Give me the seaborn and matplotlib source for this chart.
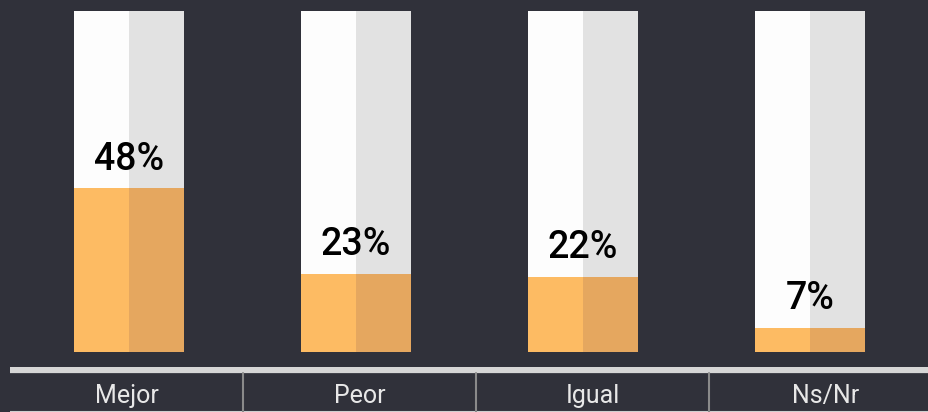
import numpy as np
import pandas as pd
import seaborn as sns
import matplotlib.pyplot as plt

# data
categories = ['Mejor', 'Peor', 'Igual', 'Ns/Nr']
values = [48, 23, 22, 7]
full = [100, 100, 100, 100]
halves = ['left', 'right']

bg_color = '#30313a'
back_palette = {'left': '#fdfdfd', 'right': '#e2e2e2'}
fill_palette = {'left': '#fdbb63', 'right': '#e5a75f'}

W, H = 929, 412

sns.set_theme(style='white')
plt.rcParams['font.family'] = ['Roboto', 'DejaVu Sans']

back_df = pd.DataFrame({'Category': np.repeat(categories, 2), 'Half': halves * 4,
                        'Value': np.repeat(full, 2)})
fill_df = pd.DataFrame({'Category': np.repeat(categories, 2), 'Half': halves * 4,
                        'Value': np.repeat(values, 2)})

fig = plt.figure(figsize=(W / 100, H / 100), dpi=100, facecolor=bg_color)
# main axes: y=0 at pixel 352, y=100 at pixel 11, bars 227 px apart
ax = fig.add_axes([15.5 / W, (H - 352) / H, 908 / W, 341 / H])
ax.set_facecolor(bg_color)

bar_w = 110 / 227
sns.barplot(data=back_df, x='Category', y='Value', hue='Half', palette=back_palette,
            width=bar_w, gap=0, dodge=True, legend=False, ax=ax, linewidth=0, saturation=1)
sns.barplot(data=fill_df, x='Category', y='Value', hue='Half', palette=fill_palette,
            width=bar_w, gap=0, dodge=True, legend=False, ax=ax, linewidth=0, saturation=1)

for i, v in enumerate(values):
    ax.text(i, v + 5.5, f'{v}%', ha='center', va='baseline', fontsize=27,
            fontweight='medium', color='black')

ax.set_xlim(-0.5, 3.5)
ax.set_ylim(0, 100)
ax.set_axis_off()

# bottom label row
tab = fig.add_axes([10 / W, 0, 4 * 233 / W, 45 / H])
tab.set_facecolor(bg_color)
tab.set_xlim(0, 4)
tab.set_ylim(0, 45)
tab.set_axis_off()
tab.axhline(42, color='#d6d6d6', lw=4.5, xmin=0, xmax=1)
tab.axhline(0.5, color='#cfcfcf', lw=1.5)
for k in range(1, 4):
    tab.plot([k, k], [0, 39], color='#8a8a8a', lw=1.5)
for i, c in enumerate(categories):
    tab.text(i + 0.5, 9, c, ha='center', va='baseline', fontsize=18, color='#e8e8e8')

plt.savefig('out.png', dpi=100, facecolor=bg_color)
